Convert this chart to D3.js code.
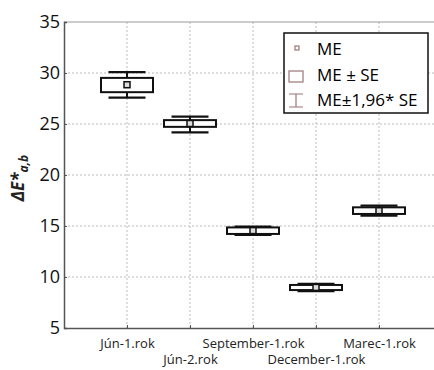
<!DOCTYPE html>
<html>
<head>
<meta charset="utf-8">
<script src="https://cdn.jsdelivr.net/npm/d3@7"></script>
<style>
  body { margin: 0; background: #fff; }
  svg { display: block; font-family: "Open Sans", sans-serif; }
</style>
</head>
<body>
<div id="chart"></div>
<script>
// data
const categories = ["Jún-1.rok", "Jún-2.rok", "September-1.rok", "December-1.rok", "Marec-1.rok"];
const meanValues = [28.85, 25.05, 14.55, 8.98, 16.5];
const seLow = [28.12, 24.72, 14.22, 8.72, 16.18];
const seHigh = [29.52, 25.38, 14.86, 9.22, 16.83];
const ciLow = [27.58, 24.17, 14.12, 8.62, 16.02];
const ciHigh = [30.08, 25.72, 14.94, 9.32, 17.0];
const yTicks = [5, 10, 15, 20, 25, 30, 35];
const legendLabels = ["ME", "ME ± SE", "ME±1,96* SE"];

const data = categories.map((c, i) => ({
  cat: c, mean: meanValues[i], lo: seLow[i], hi: seHigh[i], ciLo: ciLow[i], ciHi: ciHigh[i]
}));

const width = 434, height = 370;
const margin = { top: 22, right: -8, bottom: 42, left: 64 };

const svg = d3.select("#chart")
  .append("svg")
  .attr("width", width)
  .attr("height", height);

const x = d3.scalePoint()
  .domain(categories)
  .range([margin.left, width - margin.right])
  .padding(1);

const y = d3.scaleLinear()
  .domain([5, 35])
  .range([height - margin.bottom, margin.top]);

// grid
svg.append("g")
  .selectAll("line")
  .data(yTicks.slice(1, -1))
  .join("line")
  .attr("x1", margin.left).attr("x2", width - margin.right)
  .attr("y1", d => y(d)).attr("y2", d => y(d))
  .attr("stroke", "#bbb")
  .attr("stroke-dasharray", "2,2");

svg.append("g")
  .selectAll("line")
  .data(categories)
  .join("line")
  .attr("x1", d => x(d)).attr("x2", d => x(d))
  .attr("y1", margin.top).attr("y2", height - margin.bottom)
  .attr("stroke", "#bbb")
  .attr("stroke-dasharray", "2,2");

// top border
svg.append("line")
  .attr("x1", margin.left).attr("x2", width)
  .attr("y1", margin.top).attr("y2", margin.top)
  .attr("stroke", "#999");

// y axis
const yAxis = svg.append("g")
  .attr("transform", `translate(${margin.left},0)`)
  .call(d3.axisRight(y).tickValues(yTicks).tickSize(3).tickFormat(d3.format("d")));
yAxis.select(".domain").attr("stroke", "#555").attr("stroke-width", 1.5);
yAxis.selectAll(".tick line").attr("stroke", "#555");
yAxis.selectAll("text")
  .attr("x", -4)
  .attr("text-anchor", "end")
  .style("font-size", "18px")
  .style("font-family", "'Open Sans', sans-serif")
  .attr("fill", "#111");

// x axis, labels alternate on two rows
const xAxis = svg.append("g")
  .attr("transform", `translate(0,${height - margin.bottom})`)
  .call(d3.axisTop(x).tickSize(3).tickSizeOuter(0));
xAxis.select(".domain").attr("stroke", "#555").attr("stroke-width", 1.5);
xAxis.selectAll(".tick line").attr("stroke", "#555");
xAxis.selectAll("text")
  .attr("y", (d, i) => i % 2 === 0 ? 20 : 36)
  .attr("dy", 0)
  .style("font-size", "13px")
  .style("font-family", "'Open Sans', sans-serif")
  .attr("fill", "#222");

// y label
svg.append("text")
  .attr("transform", `translate(24,178) rotate(-90)`)
  .attr("text-anchor", "middle")
  .style("font-size", "17px")
  .style("font-weight", "bold")
  .style("font-style", "italic")
  .attr("fill", "#222")
  .call(t => {
    t.append("tspan").text("ΔE*");
    t.append("tspan").attr("dy", 4).style("font-size", "12px").text("a,b");
  });

// boxes
const boxW = 52, capW = 37;
const g = svg.append("g")
  .selectAll("g")
  .data(data)
  .join("g");

g.append("line")
  .attr("x1", d => x(d.cat)).attr("x2", d => x(d.cat))
  .attr("y1", d => y(d.ciHi)).attr("y2", d => y(d.ciLo))
  .attr("stroke", "#111").attr("stroke-width", 2);

g.append("line")
  .attr("x1", d => x(d.cat) - capW / 2).attr("x2", d => x(d.cat) + capW / 2)
  .attr("y1", d => y(d.ciHi)).attr("y2", d => y(d.ciHi))
  .attr("stroke", "#111").attr("stroke-width", 2.2);

g.append("line")
  .attr("x1", d => x(d.cat) - capW / 2).attr("x2", d => x(d.cat) + capW / 2)
  .attr("y1", d => y(d.ciLo)).attr("y2", d => y(d.ciLo))
  .attr("stroke", "#111").attr("stroke-width", 2.2);

g.append("rect")
  .attr("x", d => x(d.cat) - boxW / 2)
  .attr("y", d => y(d.hi))
  .attr("width", boxW)
  .attr("height", d => y(d.lo) - y(d.hi))
  .attr("fill", "#fff")
  .attr("stroke", "#111").attr("stroke-width", 2);

g.append("rect")
  .attr("x", d => x(d.cat) - 3)
  .attr("y", d => y(d.mean) - 3)
  .attr("width", 6).attr("height", 6)
  .attr("fill", "#ddd")
  .attr("stroke", "#111").attr("stroke-width", 1.5);

// legend
const lg = svg.append("g").attr("transform", "translate(284,33)");
lg.append("rect")
  .attr("width", 144).attr("height", 80)
  .attr("fill", "#fff")
  .attr("stroke", "#111").attr("stroke-width", 1.5);

const symColor = "#9a7676";
lg.append("rect").attr("x", 11).attr("y", 13).attr("width", 4).attr("height", 4)
  .attr("fill", "none").attr("stroke", symColor).attr("stroke-width", 1.2);
lg.append("rect").attr("x", 5).attr("y", 38).attr("width", 14).attr("height", 11)
  .attr("fill", "none").attr("stroke", symColor).attr("stroke-width", 1.2);
lg.append("path")
  .attr("d", "M5,61H19M5,74H19M12,61V74")
  .attr("fill", "none").attr("stroke", symColor).attr("stroke-width", 1.2);

lg.selectAll("text.leg")
  .data(legendLabels)
  .join("text")
  .attr("class", "leg")
  .attr("x", 33)
  .attr("y", (d, i) => 22 + i * 25.5)
  .style("font-size", "17px")
  .attr("fill", "#000")
  .text(d => d);
</script>
</body>
</html>
